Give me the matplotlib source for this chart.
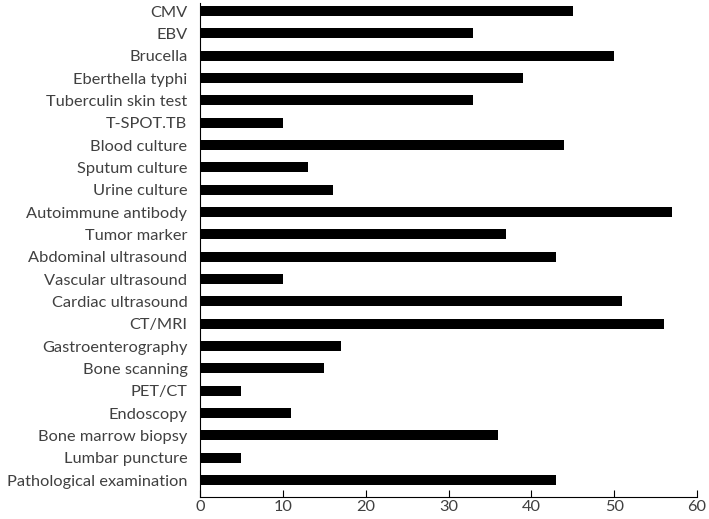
import numpy as np
import matplotlib
matplotlib.use('Agg')
import matplotlib.pyplot as plt

plt.rcParams['font.family'] = ['Lato', 'DejaVu Sans']

# 检查项目 (从上到下)
tests = ['CMV', 'EBV', 'Brucella', 'Eberthella typhi', 'Tuberculin skin test', 'T-SPOT.TB',
         'Blood culture', 'Sputum culture', 'Urine culture', 'Autoimmune antibody', 'Tumor marker',
         'Abdominal ultrasound', 'Vascular ultrasound', 'Cardiac ultrasound', 'CT/MRI',
         'Gastroenterography', 'Bone scanning', 'PET/CT', 'Endoscopy', 'Bone marrow biopsy',
         'Lumbar puncture', 'Pathological examination']
counts = [45, 33, 50, 39, 33, 10, 44, 13, 16, 57, 37, 43, 10, 51, 56, 17, 15, 5, 11, 36, 5, 43]
xticks = [0, 10, 20, 30, 40, 50, 60]

fig = plt.figure(figsize=(7.09, 5.19), dpi=100)
ax = fig.add_axes([200/709, 1 - 497/519, 497/709, 494/519])

y = np.arange(len(tests))[::-1]
ax.barh(y, counts, height=0.45, color='black')

ax.set_yticks(y)
ax.set_yticklabels(tests, fontsize=11.8, color='#404040')
ax.set_xticks(xticks)
ax.set_xticklabels([str(t) for t in xticks], fontsize=11.8, color='#404040')
ax.set_xlim(0, 60)
ax.set_ylim(-0.76, len(tests) - 1 + 0.36)

ax.spines['top'].set_visible(False)
ax.spines['right'].set_visible(False)
ax.spines['left'].set_color('black')
ax.spines['bottom'].set_color('black')
ax.tick_params(axis='y', length=0, pad=9)
ax.tick_params(axis='x', direction='in', length=5, pad=2)

fig.savefig('out.png', dpi=100)
